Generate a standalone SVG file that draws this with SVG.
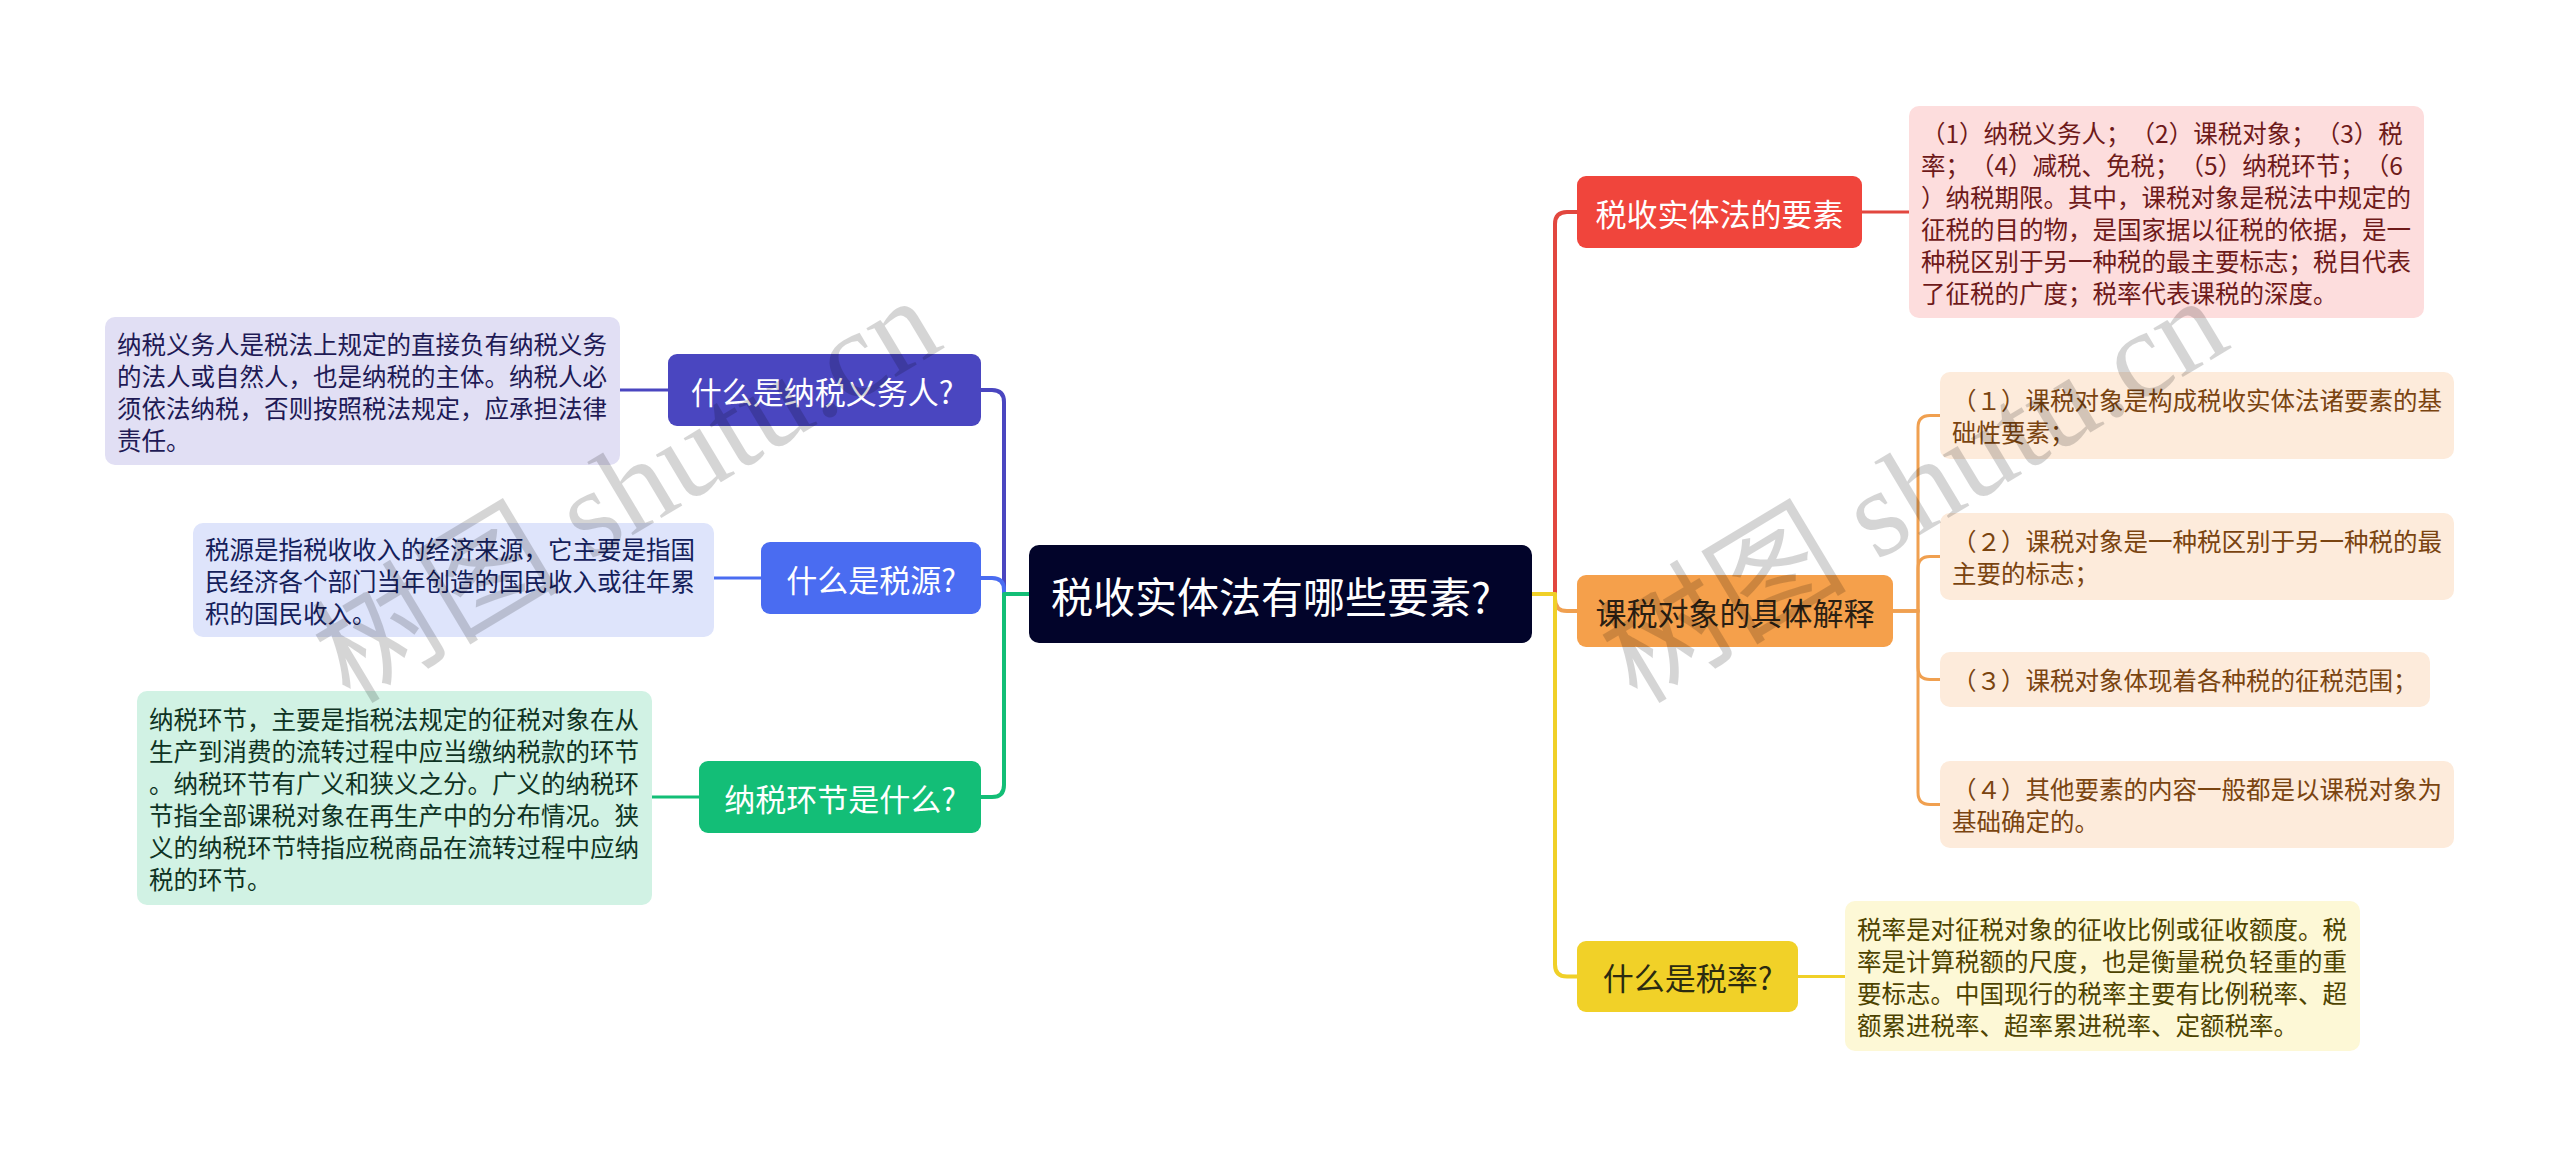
<svg xmlns="http://www.w3.org/2000/svg" width="2560" height="1157" viewBox="0 0 2560 1157">
<style>
text{font-family:"Noto Sans CJK SC","Noto Sans",sans-serif;dominant-baseline:central;text-spacing-trim:space-all;font-feature-settings:"halt" 0,"chws" 0}
.lbl{font-size:31px;text-anchor:middle}
.det{font-size:24.5px}
.ln{fill:none;stroke-width:4;stroke-linecap:round;stroke-linejoin:round}
.sl{fill:none;stroke-width:3;stroke-linecap:round}
.wm{font-family:"Liberation Serif","Noto Sans CJK SC",serif;font-size:124px;fill:#000;opacity:0.16;dominant-baseline:auto}
</style>
<rect width="2560" height="1157" fill="#fff"/>
<g id="connectors">
<path class="ln" stroke="#E2473F" d="M1532 594 H1555 V224 Q1555 212 1567 212 H1577"/>
<path class="ln" stroke="#F0A050" d="M1532 594 H1555 V599 Q1555 611 1567 611 H1577"/>
<path class="ln" stroke="#F0D028" d="M1532 594 H1555 V964.5 Q1555 976.5 1567 976.5 H1577"/>
<path class="ln" stroke="#4A46C0" d="M1029 594 H1004 V402 Q1004 390 992 390 H981"/>
<path class="ln" stroke="#4A6CF1" d="M1029 594 H1004 V590 Q1004 578 992 578 H981"/>
<path class="ln" stroke="#12BE76" d="M1029 594 H1004 V785 Q1004 797 992 797 H981"/>
<path class="sl" stroke="#E2473F" d="M1862 212 H1909"/>
<path class="sl" stroke="#F0A050" d="M1893 611 H1918 V427.5 Q1918 415.5 1930 415.5 H1940"/>
<path class="sl" stroke="#F0A050" d="M1893 611 H1918 V568.5 Q1918 556.5 1930 556.5 H1940"/>
<path class="sl" stroke="#F0A050" d="M1893 611 H1918 V667.5 Q1918 679.5 1930 679.5 H1940"/>
<path class="sl" stroke="#F0A050" d="M1893 611 H1918 V792.5 Q1918 804.5 1930 804.5 H1940"/>
<path class="sl" stroke="#F0D028" d="M1798 976.5 H1845"/>
<path class="sl" stroke="#4A46C0" d="M668 390 H620"/>
<path class="sl" stroke="#4A6CF1" d="M761 578 H714"/>
<path class="sl" stroke="#12BE76" d="M699 797 H652"/>
</g>
<g id="root">
<rect x="1029" y="545" width="503" height="98" rx="10" fill="#02042A"/>
<text x="1271" y="594" class="lbl" style="font-size:42px" fill="#fff">税收实体法有哪些要素?</text>
</g>
<g id="n-elements">
<rect x="1577" y="176" width="285" height="72" rx="9" fill="#F0453C"/>
<text x="1719.5" y="212" class="lbl" fill="#fff">税收实体法的要素</text>
</g>
<g id="d-elements">
<rect x="1909" y="106" width="515" height="212" rx="10" fill="#FDDDDD"/>
<g class="det" fill="#6E1A1A">
<text x="1921" y="132">（1）纳税义务人；（2）课税对象；（3）税</text>
<text x="1921" y="164">率；（4）减税、免税；（5）纳税环节；（6</text>
<text x="1921" y="196">）纳税期限。其中，课税对象是税法中规定的</text>
<text x="1921" y="228">征税的目的物，是国家据以征税的依据，是一</text>
<text x="1921" y="260">种税区别于另一种税的最主要标志；税目代表</text>
<text x="1921" y="292">了征税的广度；税率代表课税的深度。</text>
</g>
</g>
<g id="n-object">
<rect x="1577" y="575" width="316" height="72" rx="9" fill="#F5A04B"/>
<text x="1735" y="611" class="lbl" fill="#2B2014">课税对象的具体解释</text>
</g>
<g id="d-object-1">
<rect x="1940" y="372" width="514" height="87" rx="10" fill="#FDEBDB"/>
<g class="det" fill="#7A4410">
<text x="1952" y="399.5">（１）课税对象是构成税收实体法诸要素的基</text>
<text x="1952" y="431.5">础性要素；</text>
</g>
</g>
<g id="d-object-2">
<rect x="1940" y="513" width="514" height="87" rx="10" fill="#FDEBDB"/>
<g class="det" fill="#7A4410">
<text x="1952" y="540.5">（２）课税对象是一种税区别于另一种税的最</text>
<text x="1952" y="572.5">主要的标志；</text>
</g>
</g>
<g id="d-object-3">
<rect x="1940" y="652" width="490" height="55" rx="10" fill="#FDEBDB"/>
<text x="1952" y="679.5" class="det" fill="#7A4410">（３）课税对象体现着各种税的征税范围；</text>
</g>
<g id="d-object-4">
<rect x="1940" y="761" width="514" height="87" rx="10" fill="#FDEBDB"/>
<g class="det" fill="#7A4410">
<text x="1952" y="788.5">（４）其他要素的内容一般都是以课税对象为</text>
<text x="1952" y="820.5">基础确定的。</text>
</g>
</g>
<g id="n-rate">
<rect x="1577" y="941" width="221" height="71" rx="9" fill="#F1D128"/>
<text x="1687.5" y="976.5" class="lbl" fill="#2B2A10">什么是税率?</text>
</g>
<g id="d-rate">
<rect x="1845" y="901" width="515" height="150" rx="10" fill="#FDF8D6"/>
<g class="det" fill="#4D4300">
<text x="1857" y="928">税率是对征税对象的征收比例或征收额度。税</text>
<text x="1857" y="960">率是计算税额的尺度，也是衡量税负轻重的重</text>
<text x="1857" y="992">要标志。中国现行的税率主要有比例税率、超</text>
<text x="1857" y="1024">额累进税率、超率累进税率、定额税率。</text>
</g>
</g>
<g id="n-taxpayer">
<rect x="668" y="354" width="313" height="72" rx="9" fill="#4A46C0"/>
<text x="822" y="390" class="lbl" fill="#fff">什么是纳税义务人?</text>
</g>
<g id="d-taxpayer">
<rect x="105" y="317" width="515" height="148" rx="10" fill="#E1DFF4"/>
<g class="det" fill="#1E1A55">
<text x="117" y="343">纳税义务人是税法上规定的直接负有纳税义务</text>
<text x="117" y="375">的法人或自然人，也是纳税的主体。纳税人必</text>
<text x="117" y="407">须依法纳税，否则按照税法规定，应承担法律</text>
<text x="117" y="439">责任。</text>
</g>
</g>
<g id="n-source">
<rect x="761" y="542" width="220" height="72" rx="9" fill="#4A6CF1"/>
<text x="871" y="578" class="lbl" fill="#fff">什么是税源?</text>
</g>
<g id="d-source">
<rect x="193" y="523" width="521" height="114" rx="10" fill="#DEE4FB"/>
<g class="det" fill="#14205A">
<text x="205" y="548">税源是指税收收入的经济来源，它主要是指国</text>
<text x="205" y="580">民经济各个部门当年创造的国民收入或往年累</text>
<text x="205" y="612">积的国民收入。</text>
</g>
</g>
<g id="n-stage">
<rect x="699" y="761" width="282" height="72" rx="9" fill="#13BE77"/>
<text x="840" y="797" class="lbl" fill="#fff">纳税环节是什么?</text>
</g>
<g id="d-stage">
<rect x="137" y="691" width="515" height="214" rx="10" fill="#D1F2E4"/>
<g class="det" fill="#0E3323">
<text x="149" y="718">纳税环节，主要是指税法规定的征税对象在从</text>
<text x="149" y="750">生产到消费的流转过程中应当缴纳税款的环节</text>
<text x="149" y="782">。纳税环节有广义和狭义之分。广义的纳税环</text>
<text x="149" y="814">节指全部课税对象在再生产中的分布情况。狭</text>
<text x="149" y="846">义的纳税环节特指应税商品在流转过程中应纳</text>
<text x="149" y="878">税的环节。</text>
</g>
</g>
<g id="watermarks">
<text class="wm" x="350" y="705" transform="rotate(-31 350 705)">树图 shutu.cn</text>
<text class="wm" x="1637" y="705" transform="rotate(-31 1637 705)">树图 shutu.cn</text>
</g>
</svg>
